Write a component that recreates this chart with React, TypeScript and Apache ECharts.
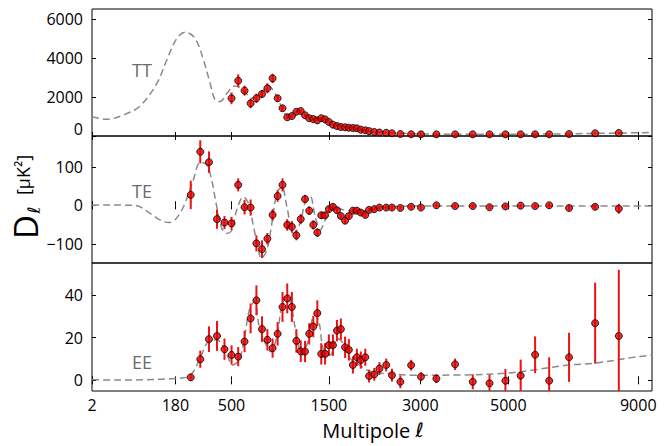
import React, { useEffect, useRef } from "react";
import * as echarts from "echarts";

// ---- x scale: the figure uses a power-law (ell^0.45) multipole axis ----
const POWER = 0.45;
const U = (l: number) => Math.pow(l, POWER);
const ELL_MIN = 2;
const ELL_MAX = 9500;

// ---- tick labels ----
const xTickLabels = [2, 180, 500, 1500, 3000, 5000, 9000];
const ttTicks = [0, 2000, 4000, 6000];
const teTicks = [-100, 0, 100];
const eeTicks = [0, 20, 40];

// ---- binned multipoles ----
const ellBins = [
  250, 300, 350, 400, 450, 500, 550, 600, 650, 700,
  750, 800, 850, 900, 950, 1000, 1050, 1100, 1150, 1200,
  1250, 1300, 1350, 1400, 1450, 1500, 1555, 1610, 1665, 1725,
  1780, 1840, 1900, 1960, 2030, 2090, 2175, 2260, 2375, 2475,
  2625, 2825, 3015, 3325, 3725, 4125, 4525, 4925, 5325, 5720,
  6120, 6710, 7530, 8320,
];
const ellTT = ellBins.slice(5);

// ---- TT data ----
const ttValues = [
  1930, 2830, 2320, 1670, 1930, 2150, 2440, 2950, 1930, 1420,
  960, 1020, 1240, 1280, 1060, 910, 870, 800, 910, 850,
  720, 580, 510, 460, 445, 425, 410, 395, 325, 290,
  250, 205, 180, 165, 140, 105, 90, 85, 85, 85,
  85, 85, 85, 85, 85, 85, 100, 140, 155,
];
const ttErrors = [
  300, 325, 255, 250, 240, 210, 255, 240, 170, 130,
  100, 90, 80, 80, 70, 60, 60, 55, 55, 50,
  45, 40, 40, 35, 35, 30, 30, 30, 30, 30,
  25, 25, 25, 25, 25, 25, 25, 25, 25, 25,
  25, 25, 25, 25, 25, 25, 30, 35, 45,
];

// ---- TE data ----
const teValues = [
  27, 139, 112, -36, -45, -47, 53, -5, -6, -99,
  -114, -87, -25, 24, 53, -51, -56, -78, -36, 16,
  -14, -51, -71, -26, -26, -10, -4, -13, -28, -40,
  -28, -14, -14, -19, -25, -12, -10, -6, -6, -6,
  -7, -4, -6, 0, -2, -2, -5, -3, -1, -2,
  0, -7, -4, -9,
];
const teErrors = [
  37, 30, 28, 25, 17, 17, 17, 19, 21, 21,
  23, 15, 15, 15, 17, 15, 15, 13, 13, 11,
  11, 12, 11, 9, 8, 8, 7, 7, 7, 7,
  7, 6, 6, 6, 6, 5, 5, 5, 5, 5,
  5, 5, 5, 5, 5, 5, 5, 5, 5, 5,
  5, 6, 7, 13,
];

// ---- EE data ----
const eeValues = [
  1.4, 9.9, 19.3, 20.8, 14.6, 11.9, 11.1, 18.2, 29, 37.5,
  24, 19, 15.1, 21.8, 34.4, 38.4, 34.4, 18.5, 13.6, 13.5,
  21.8, 25.2, 31.5, 12.4, 12.4, 16.5, 16.5, 23.3, 24, 15.5,
  14.3, 7.2, 10.8, 9.5, 10.8, 2.0, 2.8, 5.5, 7.2, 2.4,
  -0.7, 7.1, 1.7, 0.8, 7.5, -0.7, -1.4, -0.2, 2.2, 12.0,
  -0.2, 10.8, 26.8, 20.8,
];
const eeErrors = [
  1, 4, 6, 7, 5, 4.5, 4.5, 5, 7, 7,
  6, 5, 4.5, 5.5, 7, 7, 7, 5.5, 5, 5,
  5, 5, 6, 5, 5, 5, 5, 5, 5, 5,
  5, 4, 4, 4, 4, 3, 3, 3, 3, 3,
  3, 2.5, 2, 2, 2.7, 3.5, 4, 5.5, 7.5, 8.6,
  11, 11.5, 19, 31,
];

// ---- model curves (dashed) ----
const ttModelEll = [2, 11, 32, 65, 112, 146, 186, 223, 272, 318, 357, 388, 421, 467, 527, 591, 660, 733, 810, 892, 996, 1068, 1143, 1200, 1262, 1320, 1400, 1519, 1640, 1753, 2000, 2264, 2600, 2900, 4000, 5500, 7000, 9500];
const ttModelD = [990, 855, 1075, 1540, 2700, 3890, 5000, 5310, 5000, 3890, 2700, 1840, 1760, 2190, 2560, 2355, 1930, 2100, 2560, 2010, 1075, 1160, 1280, 1110, 930, 860, 880, 680, 520, 425, 300, 220, 150, 110, 85, 90, 120, 180];

const teModelEll = [2, 10, 30, 57, 91, 122, 152, 178, 215, 263, 299, 327, 357, 399, 432, 467, 503, 539, 591, 632, 675, 718, 742, 795, 843, 892, 943, 996, 1068, 1143, 1202, 1262, 1324, 1388, 1452, 1563, 1703, 1901, 2264, 3000, 9500];
const teModelD = [0, 1, 0.5, -1, -21, -38, -45, -38, -4, 66, 111, 109, 83, -4, -60, -73, -64, -12, 22, 5, -56, -116, -138, -116, -47, 31, 48, -4, -73, -47, 9, 22, -30, -64, -38, -4, -12, -17, -5, -2, -2];

const eeModelEll = [2, 10, 50, 100, 150, 200, 250, 299, 347, 399, 453, 510, 556, 591, 640, 683, 725, 795, 832, 892, 943, 990, 1038, 1098, 1166, 1227, 1315, 1370, 1430, 1520, 1610, 1700, 1795, 1900, 2060, 2200, 2500, 2800, 3900, 4900, 5650, 6700, 7500, 9000, 9500];
const eeModelD = [0.4, 0.2, 0.2, 0.4, 0.7, 1.0, 2.5, 10.4, 18.2, 19, 14.3, 7.2, 9.6, 17.4, 33, 37, 25.2, 15.8, 13.4, 20.5, 35.4, 39.3, 36.2, 22.1, 11.9, 17.4, 30.7, 27.6, 14.3, 11.9, 19.8, 17.4, 10.4, 8, 4.8, 3.6, 3.0, 2.4, 2.5, 3.3, 4.8, 7.2, 8, 11.1, 11.8];

const FONT = "'Open Sans', 'DejaVu Sans', sans-serif";
const ELL_FONT = "'DejaVu Sans', sans-serif";

function buildOption() {
  const panels = [
    { top: 9, height: 127, min: 0, max: 6500, ticks: ttTicks, ell: ellTT, v: ttValues, e: ttErrors, mEll: ttModelEll, mD: ttModelD },
    { top: 136, height: 127, min: -150, max: 180, ticks: teTicks, ell: ellBins, v: teValues, e: teErrors, mEll: teModelEll, mD: teModelD },
    { top: 263, height: 128, min: -5, max: 55, ticks: eeTicks, ell: ellBins, v: eeValues, e: eeErrors, mEll: eeModelEll, mD: eeModelD },
  ];
  const tickU = xTickLabels.map(U);
  const grid: any[] = [];
  const xAxis: any[] = [];
  const yAxis: any[] = [];
  const series: any[] = [];

  panels.forEach((p, i) => {
    grid.push({ left: 92, width: 560, top: p.top, height: p.height, show: true, borderColor: "#000", borderWidth: 1, backgroundColor: "transparent" });
    const baseX = {
      gridIndex: i, type: "value", min: U(ELL_MIN), max: U(ELL_MAX),
      axisLine: { show: false }, splitLine: { show: false },
      axisTick: { show: true, inside: true, length: 4, customValues: tickU, lineStyle: { color: "#000", width: 1 } },
    };
    xAxis.push({
      ...baseX, position: "bottom",
      axisLabel: i === 2 ? {
        show: true, customValues: tickU, margin: 6, fontSize: 16, fontFamily: FONT, color: "#000",
        formatter: (val: number) => {
          let best = 0;
          tickU.forEach((t, k) => { if (Math.abs(t - val) < Math.abs(tickU[best] - val)) best = k; });
          return String(xTickLabels[best]);
        },
      } : { show: false },
    });
    xAxis.push({ ...baseX, position: "top", axisLabel: { show: false } });

    const baseY = {
      gridIndex: i, type: "value", min: p.min, max: p.max,
      axisLine: { show: false }, splitLine: { show: false },
      axisTick: { show: true, inside: true, length: 4, customValues: p.ticks, lineStyle: { color: "#000", width: 1 } },
    };
    yAxis.push({
      ...baseY, position: "left",
      axisLabel: {
        show: true, customValues: p.ticks, margin: 9, fontSize: 16, fontFamily: FONT, color: "#000",
        formatter: (val: number) => {
          if (i === 0 && val === 0) return "{lift|0}";
          return val < 0 ? "\u2212" + Math.abs(val) : String(val);
        },
        rich: { lift: { padding: [0, 0, 14, 0], fontSize: 16, fontFamily: FONT, color: "#000" } },
      },
    });
    yAxis.push({ ...baseY, position: "right", axisLabel: { show: false } });

    series.push({
      type: "line", xAxisIndex: 2 * i, yAxisIndex: 2 * i, z: 1,
      data: p.mEll.map((l, k) => [U(l), p.mD[k]]),
      showSymbol: false, smooth: 0.35, clip: true,
      lineStyle: { color: "#8a8a8a", width: 1.5, type: [7, 4] },
    });
    series.push({
      type: "custom", xAxisIndex: 2 * i, yAxisIndex: 2 * i, z: 2, clip: true,
      data: p.ell.map((l, k) => [U(l), p.v[k] - p.e[k], p.v[k] + p.e[k]]),
      encode: { x: 0, y: [1, 2] },
      renderItem: (params: any, api: any) => {
        const a = api.coord([api.value(0), api.value(1)]);
        const b = api.coord([api.value(0), api.value(2)]);
        return { type: "line", shape: { x1: a[0], y1: a[1], x2: b[0], y2: b[1] }, style: { stroke: "#f01010", lineWidth: 2 } };
      },
    });
    series.push({
      type: "scatter", xAxisIndex: 2 * i, yAxisIndex: 2 * i, z: 3,
      data: p.ell.map((l, k) => [U(l), p.v[k]]),
      symbol: "circle", symbolSize: 7,
      itemStyle: { color: "#e60000", borderColor: "#000", borderWidth: 1 },
    });
  });

  const graphic: any[] = [
    { type: "text", x: 142, y: 70, style: { text: "TT", fontSize: 18, fontFamily: FONT, fill: "#6b6b6b", align: "center", verticalAlign: "middle" } },
    { type: "text", x: 142, y: 191, style: { text: "TE", fontSize: 18, fontFamily: FONT, fill: "#6b6b6b", align: "center", verticalAlign: "middle" } },
    { type: "text", x: 142, y: 362, style: { text: "EE", fontSize: 18, fontFamily: FONT, fill: "#6b6b6b", align: "center", verticalAlign: "middle" } },
    {
      type: "text", x: 373, y: 430,
      style: {
        text: "Multipole {l|\u2113}", fontSize: 20, fontFamily: FONT, fill: "#000", align: "center", verticalAlign: "middle",
        rich: { l: { fontSize: 20, fontFamily: ELL_FONT, fontStyle: "italic", fill: "#000" } },
      },
    },
    { type: "text", x: 25, y: 227, rotation: Math.PI / 2, style: { text: "D", fontSize: 33, fontFamily: FONT, fill: "#000", align: "center", verticalAlign: "middle" } },
    { type: "text", x: 34, y: 210, rotation: Math.PI / 2, style: { text: "\u2113", fontSize: 17, fontFamily: ELL_FONT, fontStyle: "italic", fill: "#000", align: "center", verticalAlign: "middle" } },
    { type: "text", x: 23, y: 175, rotation: Math.PI / 2, style: { text: "[\u03bcK\u00b2]", fontSize: 18, fontFamily: FONT, fill: "#000", align: "center", verticalAlign: "middle" } },
  ];

  return { animation: false, backgroundColor: "#fff", grid, xAxis, yAxis, series, graphic };
}

export default function App() {
  const ref = useRef<HTMLDivElement>(null);
  useEffect(() => {
    if (!ref.current) return;
    const chart = echarts.init(ref.current, null, { renderer: "svg" });
    chart.setOption(buildOption() as any);
    return () => chart.dispose();
  }, []);
  return <div ref={ref} style={{ position: "fixed", left: 0, top: 0, width: 665, height: 446 }} />;
}
